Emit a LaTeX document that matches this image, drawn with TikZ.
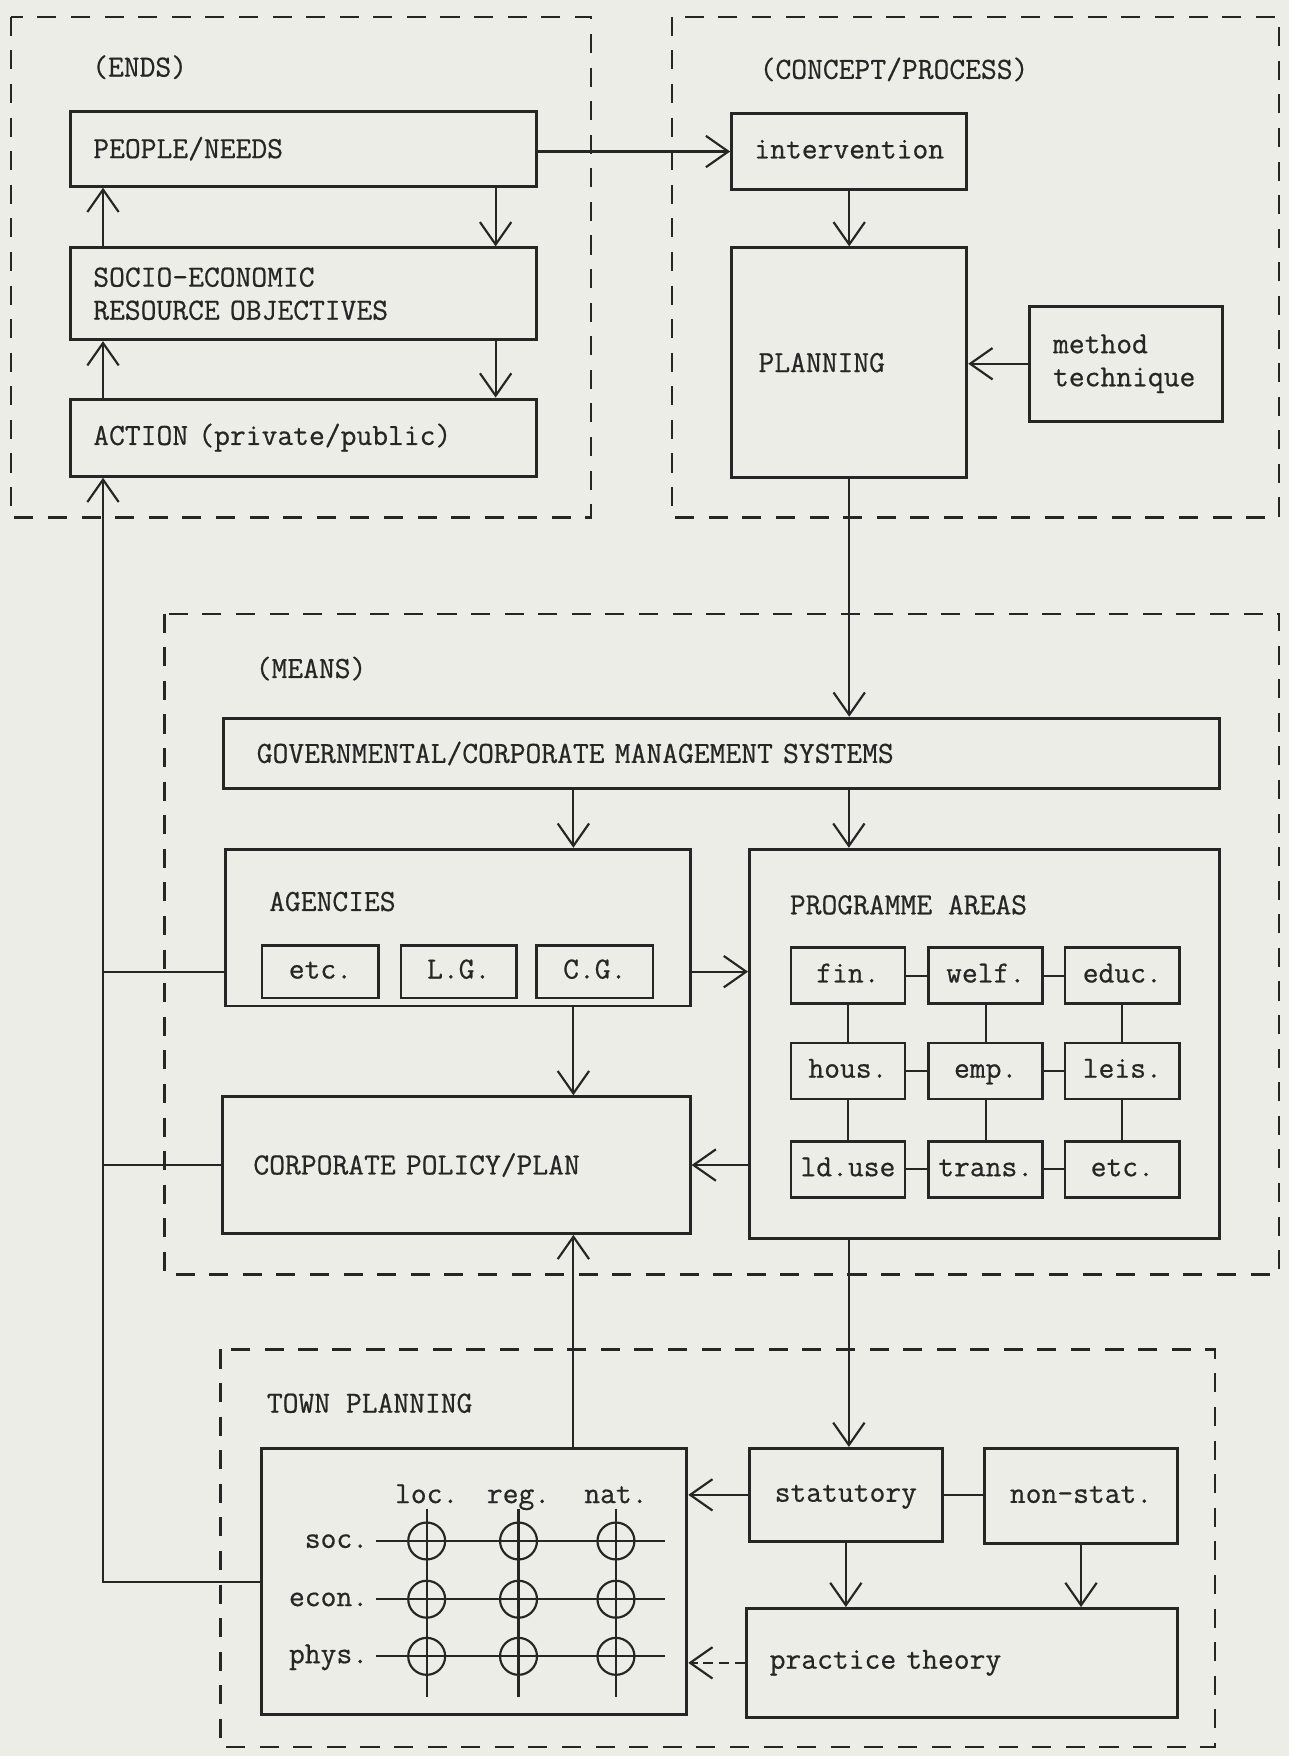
\documentclass[tikz,border=0pt]{standalone}
\usepackage{fontspec}
\usetikzlibrary{arrows.meta}

\newfontfamily\typer{Latin Modern Mono}[FakeBold=0.6]
\definecolor{paper}{RGB}{236,237,230}
\definecolor{ink}{RGB}{38,38,36}
\newcommand\tyfont{\typer\fontsize{15.6}{16.8}\selectfont}

\tikzset{
  box/.style={draw=ink, line width=1.5pt, anchor=north west, inner sep=0pt,
    text=ink, font=\tyfont},
  even/.style={text height=9pt, text depth=2pt},
  lbox/.style={box, align=left, inner xsep=#1},
  cbox/.style={box, even},
  cell/.style={cbox, line width=1.3pt, minimum width=2.04cm, minimum height=1cm},
  frame/.style={draw=ink, line width=1.2pt, dash pattern=on 0.34cm off 0.26cm},
  link/.style={draw=ink, line width=1.1pt},
  arr/.style={link, -{Straight Barb[length=0.4cm,width=0.56cm,line width=1.1pt]}},
  lab/.style={anchor=west, inner sep=0pt, text=ink, font=\tyfont},
}

\begin{document}
\begin{tikzpicture}[x=0.02cm, y=-0.02cm]
  \fill[paper] (0,0) rectangle (1151,1568);
  \useasboundingbox (0,0) rectangle (1151,1568);

  % dashed regions
  \draw[frame] (10,15) rectangle (528,462);
  \draw[frame] (600,15) rectangle (1142,462);
  \draw[frame] (147,548) rectangle (1142,1138);
  \draw[frame] (197,1205) rectangle (1085,1560);

  % ends
  \path (82,60) node[lab] (endslab) {(ENDS)};
  \path (62,98) node[lbox=0.4cm, text width=7.52cm, minimum height=1.34cm] (people) {PEOPLE/NEEDS};
  \path (62,220) node[lbox=0.4cm, text width=7.52cm, minimum height=1.64cm] (socio) {SOCIO-ECONOMIC\\RESOURCE OBJECTIVES};
  \path (62,355) node[lbox=0.4cm, text width=7.52cm, minimum height=1.38cm] (action) {ACTION (private/public)};

  % concept / process
  \path (678,62) node[lab] (conclab) {(CONCEPT/PROCESS)};
  \path (652,100) node[cbox, minimum width=4.2cm, minimum height=1.36cm] (interv) {intervention};
  \path (652,220) node[lbox=0.48cm, text width=3.24cm, minimum height=4.1cm] (planning) {PLANNING};
  \path (918,272) node[lbox=0.42cm, text width=2.6cm, minimum height=2.06cm] (method) {method\\technique};

  % means
  \path (228,597) node[lab] (meanslab) {(MEANS)};
  \path (198,640) node[lbox=0.6cm, text width=16.6cm, minimum height=1.26cm] (gov) {GOVERNMENTAL/CORPORATE MANAGEMENT SYSTEMS};
  \path (200,757) node[box, minimum width=8.3cm, minimum height=2.8cm] (agencies) {};
  \path (240,805) node[lab] (aglab) {AGENCIES};
  \path (233,843) node[cell, minimum width=2.08cm, minimum height=0.94cm] (etca) {etc.};
  \path (357,843) node[cell, minimum width=2.06cm, minimum height=0.94cm] (lg) {L.G.};
  \path (478,843) node[cell, minimum width=2.08cm, minimum height=0.94cm] (cg) {C.G.};
  \path (197,978) node[lbox=0.56cm, text width=7.24cm, minimum height=2.44cm] (corp) {CORPORATE POLICY/PLAN};

  \path (668,757) node[box, minimum width=8.4cm, minimum height=6.96cm] (prog) {};
  \path (705,808) node[lab] (proglab) {PROGRAMME AREAS};
  \foreach \name/\txt/\x/\y in {fin/fin./705/845, welf/welf./828/845, educ/educ./950/845,
      hous/hous./705/930, emp/emp./828/930, leis/leis./950/930,
      lduse/ld.use/705/1018, trans/trans./828/1018, etcb/etc./950/1018}
    \path (\x,\y) node[cell] (\name) {\txt};
  \foreach \a/\b in {fin/welf, welf/educ, hous/emp, emp/leis, lduse/trans, trans/etcb,
      fin/hous, hous/lduse, welf/emp, emp/trans, educ/leis, leis/etcb}
    \draw[link] (\a) -- (\b);

  % town planning
  \path (238,1253) node[lab] (tplab) {TOWN PLANNING};
  \path (232,1292) node[box, minimum width=7.6cm, minimum height=4.76cm] (tp) {};
  \foreach \x/\c/\n in {381/loc./loc, 463/reg./reg, 550/nat./nat} {
    \path (\x,1336) node[lab, even, anchor=center] (\n) {\c};
    \draw[link] (\x,1347) -- (\x,1515);
  }
  \foreach \y/\r/\n in {1376/soc./soc, 1428/econ./econ, 1479/phys./phys} {
    \path (329,\y) node[lab, even, anchor=east] (\n) {\r};
    \draw[link] (336,\y) -- (594,\y);
    \foreach \x in {381,463,550}
      \draw[link] (\x,\y) circle[radius=0.33cm];
  }

  \path (668,1292) node[cbox, minimum width=3.44cm, minimum height=1.66cm] (stat) {statutory};
  \path (878,1292) node[cbox, minimum width=3.44cm, minimum height=1.7cm] (nonstat) {non-stat.};
  \path (665,1435) node[lbox=0.42cm, text width=6.86cm, minimum height=1.94cm] (practice) {practice theory};

  % connectors
  \coordinate (fb) at ([xshift=0.6cm]action.south west);
  \coordinate (colA) at (512,0);
  \coordinate (colB) at (758,0);

  \draw[arr] ([xshift=0.6cm]socio.north west) -- ([xshift=0.6cm]people.south west);
  \draw[arr] ([xshift=0.6cm]action.north west) -- ([xshift=0.6cm]socio.south west);
  \draw[arr] ([xshift=-0.76cm]people.south east) -- ([xshift=-0.76cm]socio.north east);
  \draw[arr] ([xshift=-0.76cm]socio.south east) -- ([xshift=-0.76cm]action.north east);
  \draw[arr] (tp.west) -| (fb);
  \draw[link] (agencies.west |- etca) -- (fb |- etca);
  \draw[link] (corp.west) -- (fb |- corp.west);

  \draw[arr] (people.east |- interv) -- (interv.west);
  \draw[arr] (interv) -- (planning);
  \draw[arr] (method) -- (method -| planning.east);
  \draw[arr] (planning.south) -- (planning.south |- gov.north);

  \draw[arr] (gov.south -| colA) -- (agencies.north -| colA);
  \draw[arr] (gov.south -| colB) -- (prog.north -| colB);
  \draw[arr] (agencies.south -| colA) -- (corp.north -| colA);
  \draw[arr] (agencies.east |- cg) -- (prog.west |- cg);
  \draw[arr] (prog.west |- corp) -- (corp.east);

  \draw[arr] (prog.south -| colB) -- (stat.north -| colB);
  \draw[arr] (tp.north -| colA) -- (corp.south -| colA);
  \draw[arr] (stat) -- (stat -| tp.east);
  \draw[link] (stat.east) -- (stat.east -| nonstat.west);
  \draw[arr] (stat.south) -- (stat.south |- practice.north);
  \draw[arr] (nonstat.south) -- (nonstat.south |- practice.north);
  \draw[arr, dash pattern=on 5pt off 3pt] (practice) -- (practice -| tp.east);
\end{tikzpicture}
\end{document}
